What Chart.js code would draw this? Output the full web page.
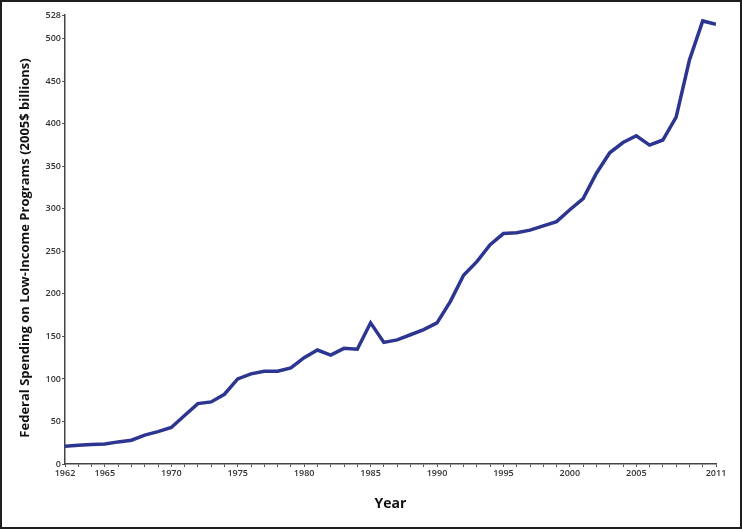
<!DOCTYPE html>
<html>
<head>
<meta charset="utf-8">
<script src="https://cdn.jsdelivr.net/npm/chart.js@4.4.0/dist/chart.umd.min.js"></script>
<style>
  html, body { margin: 0; padding: 0; background: #fff; }
  .frame { width: 742px; height: 529px; box-sizing: border-box; border: 2px solid #1e1e1e; background: #fff; }
  canvas { display: block; }
</style>
</head>
<body>
<div class="frame"><canvas id="chart" width="738" height="525"></canvas></div>
<script>
// Federal spending on low-income programs, 2005$ billions
const years = [1962, 1963, 1964, 1965, 1966, 1967, 1968, 1969, 1970, 1971,
  1972, 1973, 1974, 1975, 1976, 1977, 1978, 1979, 1980, 1981,
  1982, 1983, 1984, 1985, 1986, 1987, 1988, 1989, 1990, 1991,
  1992, 1993, 1994, 1995, 1996, 1997, 1998, 1999, 2000, 2001,
  2002, 2003, 2004, 2005, 2006, 2007, 2008, 2009, 2010, 2011];
const spending = [21, 22, 23, 23.5, 26, 28, 34, 38, 43, 57,
  71, 73, 82, 100, 106, 109, 109, 113, 125, 134,
  128, 136, 135, 166, 143, 146, 152, 158, 166, 191,
  222, 238, 258, 271, 272, 275, 280, 285, 299, 312,
  342, 366, 378, 386, 375, 381, 408, 475, 521, 517];
const xTickLabels = [1962, 1965, 1970, 1975, 1980, 1985, 1990, 1995, 2000, 2005, 2011];
const yTickValues = [0, 50, 100, 150, 200, 250, 300, 350, 400, 450, 500, 528];
const yTitle = 'Federal Spending on Low-Income Programs (2005$ billions)';

const tickFont = { family: "'Open Sans', sans-serif", size: 9, weight: '600' };
const titleFamily = "'Open Sans', sans-serif";

// the y title sits a little below the middle of the axis in the original
const yTitlePlugin = {
  id: 'yTitle',
  afterDraw(chart) {
    const c = chart.ctx;
    c.save();
    c.translate(23, 246);
    c.rotate(-Math.PI / 2);
    c.font = "bold 13px " + titleFamily;
    c.fillStyle = '#111';
    c.textAlign = 'center';
    c.textBaseline = 'middle';
    c.fillText(yTitle, 0, 0);
    c.restore();
  }
};

const ctx = document.getElementById('chart').getContext('2d');
new Chart(ctx, {
  type: 'line',
  data: {
    datasets: [{
      data: years.map((y, i) => ({ x: y, y: spending[i] })),
      borderColor: '#2c3590',
      borderWidth: 3.5,
      pointRadius: 0,
      tension: 0,
      fill: false
    }]
  },
  options: {
    responsive: false,
    animation: false,
    layout: { padding: { top: 13, right: 24, bottom: 0, left: 0 } },
    plugins: { legend: { display: false }, tooltip: { enabled: false } },
    scales: {
      x: {
        type: 'linear',
        min: 1962,
        max: 2011,
        afterBuildTicks: (scale) => { scale.ticks = years.map(v => ({ value: v })); },
        afterFit: (scale) => { scale.height = 63; },
        ticks: {
          autoSkip: false,
          maxRotation: 0,
          padding: 1,
          color: '#333',
          font: tickFont,
          callback: (v) => xTickLabels.includes(v) ? String(v) : ''
        },
        grid: { drawOnChartArea: false, tickLength: 3, color: '#555' },
        border: { color: '#444', width: 1.5 },
        title: {
          display: true,
          text: 'Year',
          color: '#111',
          font: { family: titleFamily, size: 14, weight: 'bold' },
          padding: { top: 0, bottom: 15 }
        }
      },
      y: {
        min: 0,
        max: 528,
        afterBuildTicks: (scale) => { scale.ticks = yTickValues.map(v => ({ value: v })); },
        afterFit: (scale) => { scale.width = 63; },
        ticks: {
          autoSkip: false,
          padding: 1,
          color: '#333',
          font: tickFont
        },
        grid: { drawOnChartArea: false, tickLength: 3, color: '#555' },
        border: { color: '#444', width: 1.5 }
      }
    }
  },
  plugins: [yTitlePlugin]
});
</script>
</body>
</html>
